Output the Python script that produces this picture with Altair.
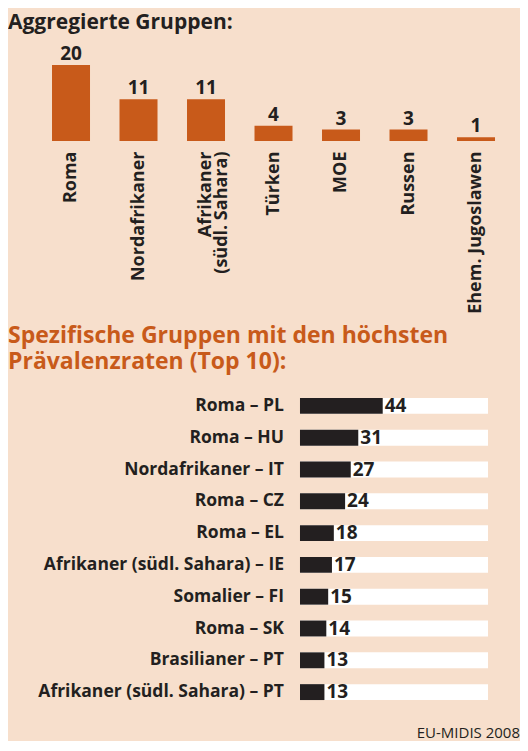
import altair as alt
import pandas as pd

# ---- data ----
agg_groups = ["Roma", "Nordafrikaner", "Afrikaner|(südl. Sahara)", "Türken", "MOE", "Russen", "Ehem. Jugoslawen"]
agg_values = [20, 11, 11, 4, 3, 3, 1]

spec_groups = [
    "Roma – PL", "Roma – HU", "Nordafrikaner – IT", "Roma – CZ", "Roma – EL",
    "Afrikaner (südl. Sahara) – IE", "Somalier – FI", "Roma – SK",
    "Brasilianer – PT", "Afrikaner (südl. Sahara) – PT",
]
spec_values = [44, 31, 27, 24, 18, 17, 15, 14, 13, 13]
spec_full = [100] * 10

title_top = "Aggregierte Gruppen:"
title_bottom = ["Spezifische Gruppen mit den höchsten", "Prävalenzraten (Top 10):"]
footer = "EU-MIDIS 2008"

# ---- styles ----
BG = "#f7dfcc"
ORANGE = "#c85a1a"
DARK = "#231f20"
FONT = "Open Sans"

df1 = pd.DataFrame({"group": agg_groups, "value": agg_values})
df2 = pd.DataFrame({"group": spec_groups, "value": spec_values, "full": spec_full})

x1 = alt.X(
    "group:N", sort=agg_groups,
    scale=alt.Scale(paddingInner=0.437, paddingOuter=0.437, align=0.746),
    axis=alt.Axis(title=None, labelAngle=270, labelPadding=10, domain=False, ticks=False,
                  labelFontSize=18, labelFontWeight="bold", labelColor=DARK, labelFont=FONT,
                  labelLimit=300, labelLineHeight=16,
                  labelExpr="split(datum.label, '|')"),
)
y1 = alt.Y("value:Q", scale=alt.Scale(domain=[0, 20], nice=False), axis=None)

bars1 = alt.Chart(df1).mark_bar(color=ORANGE).encode(x=x1, y=y1)
text1 = alt.Chart(df1).mark_text(
    dy=-1, baseline="bottom", fontSize=19, fontWeight="bold", color=DARK, font=FONT
).encode(x=alt.X("group:N", sort=agg_groups), y=y1, text="value:Q")

top = alt.layer(bars1, text1).properties(
    width=502, height=76,
    title=alt.TitleParams(title_top, anchor="start", frame="group", fontSize=21,
                          fontWeight="bold", color=DARK, font=FONT, offset=12),
)

xs = alt.Scale(domain=[-155.3, 100], nice=False, zero=False)
y2 = alt.Y("group:N", sort=spec_groups, scale=alt.Scale(paddingInner=0.5, paddingOuter=0.25), axis=None)

bg2 = alt.Chart(df2).mark_bar(color="white").encode(
    x=alt.X("full:Q", scale=xs, axis=None), x2=alt.datum(0), y=y2)
bars2 = alt.Chart(df2).mark_bar(color=DARK).encode(
    x=alt.X("value:Q", scale=xs, axis=None), x2=alt.datum(0), y=y2)
vals2 = alt.Chart(df2).mark_text(
    align="left", dx=2, baseline="middle", fontSize=19, fontWeight="bold", color=DARK, font=FONT
).encode(x=alt.X("value:Q", scale=xs, axis=None), y=y2, text="value:Q")
labs2 = alt.Chart(df2).mark_text(
    align="right", dx=-16, baseline="middle", fontSize=17.5, fontWeight="bold", color=DARK, font=FONT
).encode(x=alt.datum(0), y=y2, text="group:N")

bottom = alt.layer(bg2, bars2, vals2, labs2).properties(
    width=480, height=318,
    title=alt.TitleParams(title_bottom, anchor="start", frame="group", fontSize=23,
                          lineHeight=26, fontWeight="bold", color=ORANGE, font=FONT, offset=16),
)

chart = alt.vconcat(top, bottom, spacing=11).properties(
    background=BG,
    padding={"top": 4, "left": 0, "right": 0, "bottom": 0},
    title=alt.TitleParams(footer, orient="bottom", anchor="end", fontSize=15, fontWeight="normal",
                          color=DARK, font=FONT, offset=18, dx=10),
).configure_view(stroke=None)

chart.save("out.html", embed_options={"renderer": "svg", "actions": False})
